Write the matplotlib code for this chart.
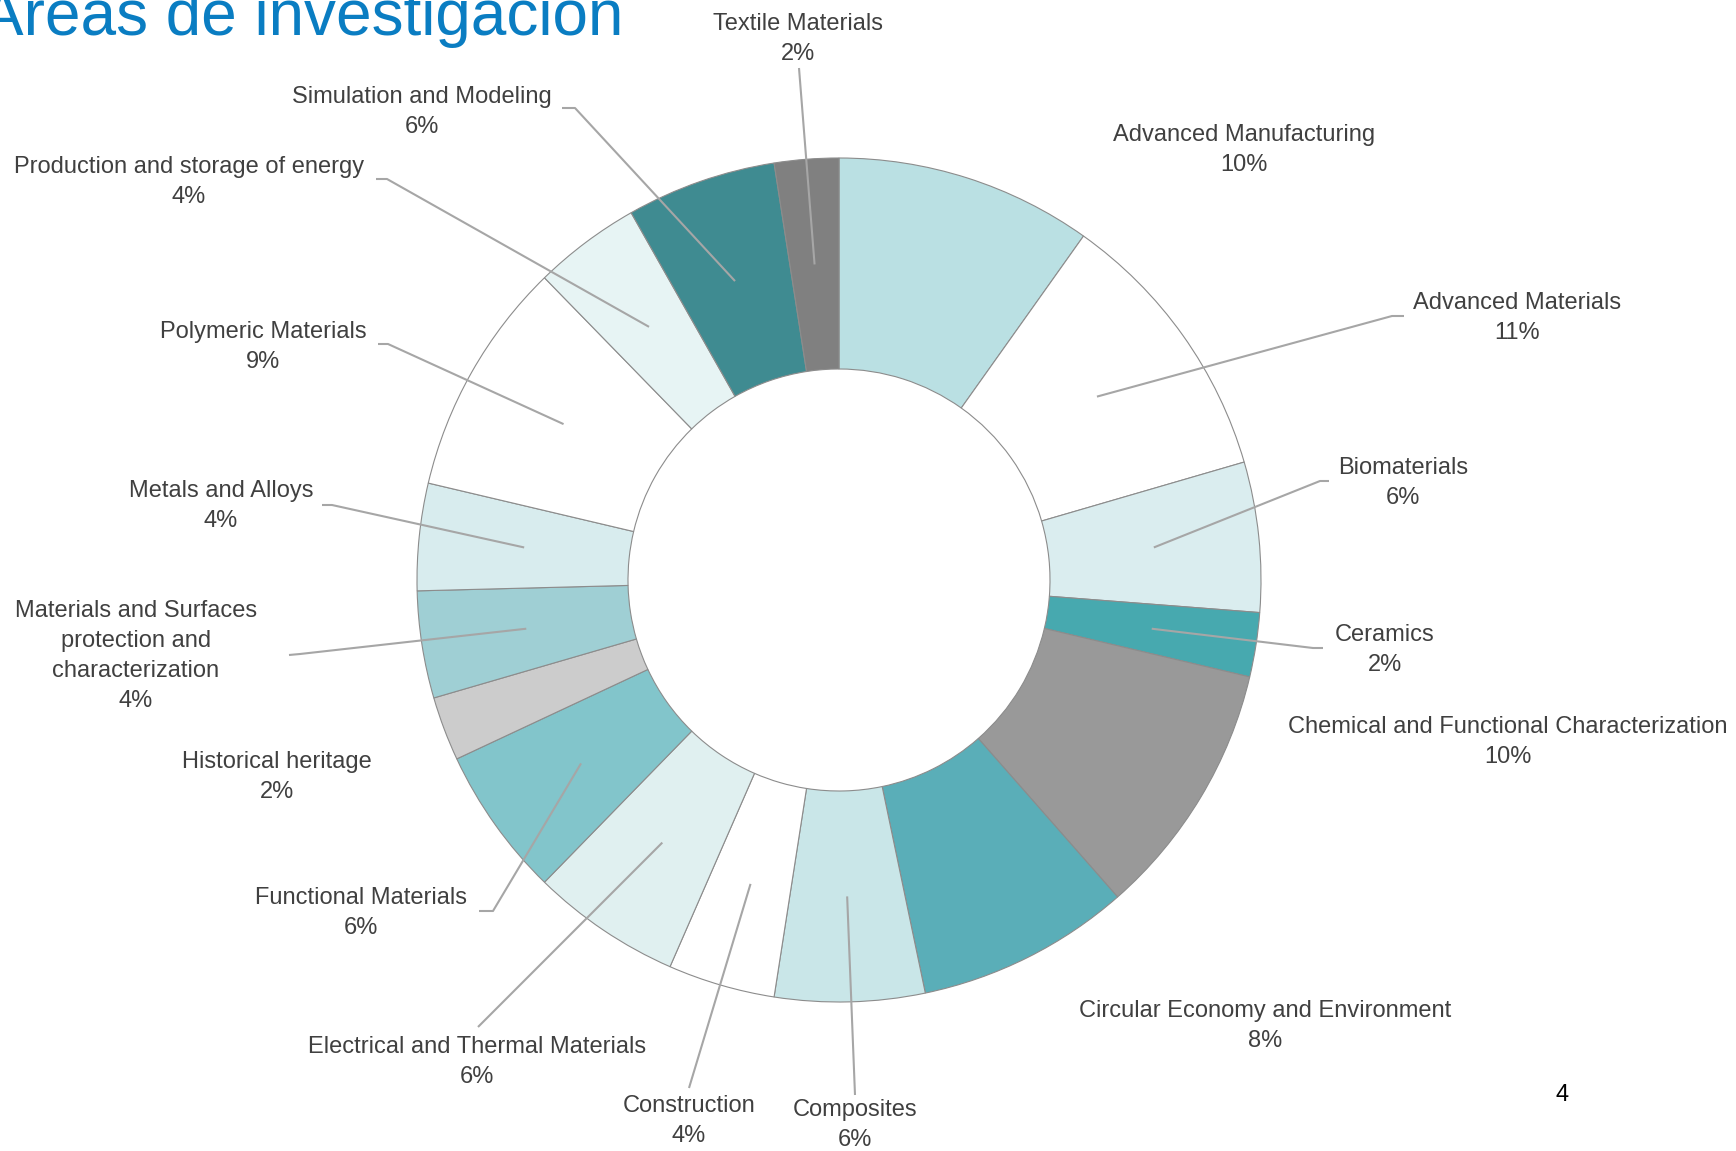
import numpy as np
import matplotlib
matplotlib.use("Agg")
import matplotlib.pyplot as plt

# ---------------- data ----------------
categories = [
    "Advanced Manufacturing", "Advanced Materials", "Biomaterials", "Ceramics",
    "Chemical and Functional Characterization", "Circular Economy and Environment",
    "Composites", "Construction", "Electrical and Thermal Materials",
    "Functional Materials", "Historical heritage",
    "Materials and Surfaces\nprotection and\ncharacterization",
    "Metals and Alloys", "Polymeric Materials", "Production and storage of energy",
    "Simulation and Modeling", "Textile Materials",
]
values = [12, 13, 7, 3, 12, 10, 7, 5, 7, 7, 3, 5, 5, 11, 5, 7, 3]
colors = [
    "#BAE0E3", "#FFFFFF", "#DAEDEF", "#47A9AF", "#999999", "#5AAEB8",
    "#C9E6E8", "#FFFFFF", "#E0F0F0", "#82C5CB", "#CCCCCC", "#9FCFD4",
    "#D8ECEE", "#FFFFFF", "#E7F4F4", "#3F8B91", "#808080",
]

# ---------------- layout (pixel coords, y from top) ----------------
W, H = 1736, 1151
CX, CY = 839, 580
R_OUT, R_IN = 422, 211

# label text centre (x, y_top)
label_pos = {
    0: (1244, 150), 1: (1517, 318), 2: (1403, 483), 3: (1385, 650),
    4: (1508, 742), 5: (1265, 1026), 6: (855, 1125), 7: (689, 1121),
    8: (477, 1062), 9: (361, 913), 10: (277, 777), 11: (136, 656),
    12: (221, 506), 13: (263, 347), 14: (189, 182), 15: (422, 112),
    16: (798, 39),
}
# leader lines: list of points after the wedge anchor (x, y_top)
leaders = {
    1: [(1392, 316), (1404, 316)],
    2: [(1320, 481), (1329, 481)],
    3: [(1313, 648), (1323, 648)],
    6: [(855, 1095)],
    7: [(689, 1088)],
    8: [(478, 1027)],
    9: [(493, 911), (479, 911)],
    11: [(300, 654), (289, 655)],
    12: [(332, 505), (322, 505)],
    13: [(388, 344), (378, 344)],
    14: [(387, 179), (376, 179)],
    15: [(575, 108), (562, 108)],
    16: [(799, 68)],
}

def fy(y_top):
    return H - y_top

fig = plt.figure(figsize=(W / 100, H / 100), dpi=100)
ax = fig.add_axes([0, 0, 1, 1])

wedges, _ = ax.pie(
    values, colors=colors, startangle=90, counterclock=False,
    radius=R_OUT, center=(CX, fy(CY)),
    wedgeprops=dict(width=R_OUT - R_IN, edgecolor="#8C8C8C", linewidth=0.8),
)
ax.set_xlim(0, W)
ax.set_ylim(0, H)
ax.set_aspect("equal")
ax.axis("off")

total = sum(values)
font = "Liberation Sans"
for i, (w, name, v) in enumerate(zip(wedges, categories, values)):
    mid = np.deg2rad((w.theta1 + w.theta2) / 2)
    if i in leaders:
        r = 0.75 * R_OUT
        xs = [CX + r * np.cos(mid)] + [p[0] for p in leaders[i]]
        ys = [fy(CY) + r * np.sin(mid)] + [fy(p[1]) for p in leaders[i]]
        ax.plot(xs, ys, color="#A6A6A6", lw=1.5, solid_capstyle="butt", zorder=3)
    pct = round(v / total * 100)
    tx, ty = label_pos[i]
    ax.text(tx, fy(ty), f"{name}\n{pct}%", ha="center", va="center",
            fontsize=17, color="#404040", family=font, linespacing=1.47, zorder=4)

# title (partially cut off at the top-left in the source slide)
ax.text(623, fy(35), "Áreas de investigación", ha="right", va="baseline",
        fontsize=46, color="#0A7DC2", family=font)
# page number
ax.text(1562, fy(1095), "4", ha="center", va="center", fontsize=17,
        color="black", family=font)

fig.savefig("out.png", dpi=100)
